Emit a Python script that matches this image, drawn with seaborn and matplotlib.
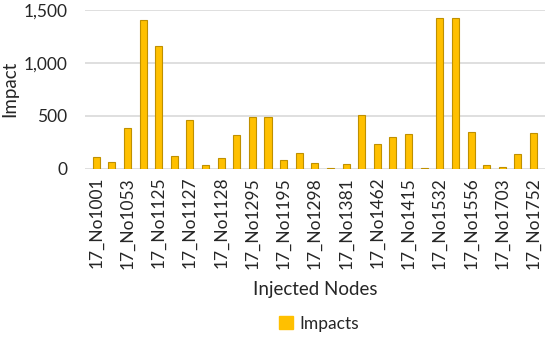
import pandas as pd
import seaborn as sns
import matplotlib.pyplot as plt
from matplotlib.patches import Patch

# 29 injected nodes; only every other name is printed on the axis
shown_labels = ['17_No1001', '17_No1053', '17_No1125', '17_No1127', '17_No1128',
                '17_No1295', '17_No1195', '17_No1298', '17_No1381', '17_No1462',
                '17_No1415', '17_No1532', '17_No1556', '17_No1703', '17_No1752']
impacts = [105, 60, 382, 1402, 1161, 118, 458, 32, 102, 321,
           490, 490, 83, 150, 55, 5, 40, 505, 230, 300,
           325, 3, 1430, 1430, 345, 30, 15, 135, 335]

df = pd.DataFrame({'pos': range(len(impacts)), 'impact': impacts})

sns.set_style('white')
plt.rcParams['font.family'] = ['Lato', 'DejaVu Sans']

fig = plt.figure(figsize=(5.5, 3.37), dpi=100)
ax = fig.add_axes([0.155, 0.50, 0.835, 0.47])

sns.barplot(data=df, x='pos', y='impact', color='#FFC000', width=0.45,
            edgecolor='#BF9000', linewidth=0.8, saturation=1, ax=ax)

ax.set_ylim(0, 1500)
ax.set_xlim(-0.7, 28.7)
ax.set_yticks([0, 500, 1000, 1500])
ax.set_yticklabels(['0', '500', '1,000', '1,500'], fontsize=12.5)
ax.set_xticks(range(0, len(impacts), 2))
ax.set_xticklabels(shown_labels, rotation=90, fontsize=12.5)
ax.tick_params(axis='x', length=0, pad=6)
ax.tick_params(axis='y', length=0, pad=13)
ax.yaxis.grid(True, color='#D9D9D9', linewidth=1.2)
ax.set_axisbelow(True)
sns.despine(ax=ax, left=True, bottom=True)

ax.set_xlabel('Injected Nodes', fontsize=13.5, labelpad=9)
ax.set_ylabel('Impact', fontsize=13.5)
ax.yaxis.set_label_coords(-0.145, 0.5)

fig.legend(handles=[Patch(color='#FFC000', label='Impacts')],
           loc='center', bbox_to_anchor=(0.58, 0.04), frameon=False,
           fontsize=12.5, handlelength=0.8, handleheight=0.8, handletextpad=0.4)

fig.savefig('out.png', dpi=100)
